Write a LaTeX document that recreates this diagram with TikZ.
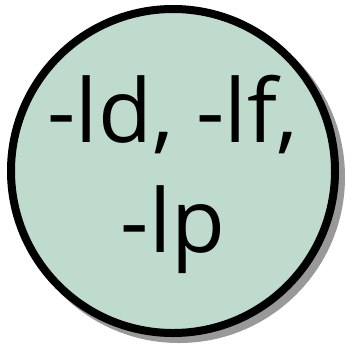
\documentclass[tikz,border=0pt]{standalone}
\usepackage{fontspec}
\newfontfamily\labelfont{Open Sans}
\usepackage{tikz}
\usetikzlibrary{calc}
\definecolor{libfill}{RGB}{190,219,206}
\definecolor{shadowgray}{RGB}{153,153,153}
\tikzset{
    libring/.style={circle, draw=black, line width=8pt, fill=libfill, minimum size=324pt, inner sep=0pt},
    libtext/.style={align=center, font=\labelfont\fontsize{88}{110}\selectfont, inner sep=0pt}
}
\begin{document}
\begin{tikzpicture}[x=1pt,y=-1pt]
        \useasboundingbox (0,0) rectangle (352,351);
        % Shadow
        \fill[shadowgray] (179,177) circle (166pt);

        % Circle
        \node[libring] (ring) at (173,171) {};

        % Flags
        \node[libtext] (flags) at ($(ring.center)+(0,3)$) {-ld, -lf,\\-lp};
    \end{tikzpicture}
\end{document}
